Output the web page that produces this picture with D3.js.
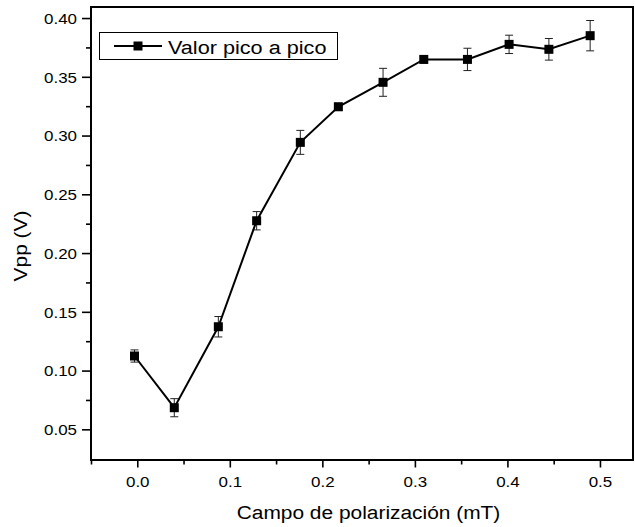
<!DOCTYPE html>
<html>
<head>
<meta charset="utf-8">
<script src="https://cdn.jsdelivr.net/npm/d3@7/dist/d3.min.js"></script>
<style>
  html, body { margin: 0; padding: 0; background: #fff; }
  svg { display: block; }
  text { font-family: "Liberation Sans", Arial, sans-serif; fill: #000; }
</style>
</head>
<body>
<svg id="chart" width="635" height="527"></svg>
<script>
// ---- data ----
const fieldX   = [-0.003, 0.040, 0.0876, 0.129, 0.1762, 0.2173, 0.2656, 0.3096, 0.3568, 0.4018, 0.4448, 0.4894];
const vppY     = [0.1124, 0.0684, 0.1373, 0.2275, 0.2942, 0.3245, 0.3453, 0.3648, 0.3648, 0.3776, 0.3734, 0.3850];
const vppErr   = [0.0052, 0.0077, 0.0087, 0.0078, 0.0102, 0.0030, 0.0119, 0.0030, 0.0095, 0.0078, 0.0092, 0.0129];
const xTicks   = [0.0, 0.1, 0.2, 0.3, 0.4, 0.5];
const xMinor   = [-0.05, 0.05, 0.15, 0.25, 0.35, 0.45];
const yTicks   = [0.05, 0.10, 0.15, 0.20, 0.25, 0.30, 0.35, 0.40];
const yMinor   = [0.075, 0.125, 0.175, 0.225, 0.275, 0.325, 0.375];
const xTitle   = "Campo de polarización (mT)";
const yTitle   = "Vpp (V)";
const legendLabel = "Valor pico a pico";

// ---- layout ----
const L = 91, R = 633, T = 7, B = 460;
const SX = 1.13; // horizontal widening of the text face

const svg = d3.select("#chart");
const x = d3.scaleLinear().domain([-0.05, 0.5357]).range([L, R]);
const y = d3.scaleLinear().domain([0.0239, 0.4094]).range([B, T]);

// axes: minor ticks
const gxMinor = svg.append("g").attr("transform", `translate(0,${B})`)
  .call(d3.axisBottom(x).tickValues(xMinor).tickSize(4.5).tickFormat(""));
const gyMinor = svg.append("g").attr("transform", `translate(${L},0)`)
  .call(d3.axisLeft(y).tickValues(yMinor).tickSize(5).tickFormat(""));
// axes: major ticks
const gx = svg.append("g").attr("transform", `translate(0,${B})`)
  .call(d3.axisBottom(x).tickValues(xTicks).tickSize(7.5).tickPadding(14).tickFormat(d3.format(".1f")));
const gy = svg.append("g").attr("transform", `translate(${L},0)`)
  .call(d3.axisLeft(y).tickValues(yTicks).tickSize(9).tickFormat(d3.format(".2f")));

[gxMinor, gyMinor, gx, gy].forEach(g => {
  g.select(".domain").remove();
  g.selectAll(".tick line").attr("stroke", "#000").attr("stroke-width", 1.6);
});
gx.selectAll(".tick text")
  .attr("font-size", 15).attr("font-family", "Liberation Sans, Arial, sans-serif")
  .attr("fill", "#000")
  .attr("y", 27).attr("dy", 0)
  .attr("transform", `scale(${SX},1)`);
gy.selectAll(".tick text")
  .attr("font-size", 15).attr("font-family", "Liberation Sans, Arial, sans-serif")
  .attr("fill", "#000")
  .attr("x", -14 / SX).attr("dy", "0.35em")
  .attr("transform", `scale(${SX},1)`);

// frame
svg.append("rect")
  .attr("x", L).attr("y", T).attr("width", R - L).attr("height", B - T)
  .attr("fill", "none").attr("stroke", "#000").attr("stroke-width", 2);

// error bars
const eb = svg.append("g").attr("stroke", "#222").attr("stroke-width", 1);
fieldX.forEach((fx, i) => {
  const cx = x(fx), y1 = y(vppY[i] - vppErr[i]), y2 = y(vppY[i] + vppErr[i]);
  eb.append("line").attr("x1", cx).attr("x2", cx).attr("y1", y1).attr("y2", y2);
  eb.append("line").attr("x1", cx - 4).attr("x2", cx + 4).attr("y1", y1).attr("y2", y1);
  eb.append("line").attr("x1", cx - 4).attr("x2", cx + 4).attr("y1", y2).attr("y2", y2);
});

// line
const pts = fieldX.map((fx, i) => [fx, vppY[i]]);
svg.append("path")
  .attr("d", d3.line().x(d => x(d[0])).y(d => y(d[1]))(pts))
  .attr("fill", "none").attr("stroke", "#000").attr("stroke-width", 2);

// markers
const MS = 9;
svg.append("g").selectAll("rect").data(pts).join("rect")
  .attr("x", d => x(d[0]) - MS / 2).attr("y", d => y(d[1]) - MS / 2)
  .attr("width", MS).attr("height", MS).attr("fill", "#000");

// legend
const lg = svg.append("g");
lg.append("rect").attr("x", 99.5).attr("y", 32.5).attr("width", 238).attr("height", 27)
  .attr("fill", "#fff").attr("stroke", "#000").attr("stroke-width", 1);
lg.append("line").attr("x1", 114).attr("x2", 162).attr("y1", 46).attr("y2", 46)
  .attr("stroke", "#000").attr("stroke-width", 2);
lg.append("rect").attr("x", 138 - MS / 2).attr("y", 46 - MS / 2).attr("width", MS).attr("height", MS)
  .attr("fill", "#000");
lg.append("text").attr("transform", `translate(168,53.5) scale(1.14,1)`)
  .attr("font-size", 19).text(legendLabel);

// axis titles
svg.append("text").attr("transform", `translate(368.5,518.5) scale(1.1,1)`)
  .attr("text-anchor", "middle").attr("font-size", 19).text(xTitle);
svg.append("text").attr("transform", `translate(27,246) rotate(-90) scale(1.1,1)`)
  .attr("text-anchor", "middle").attr("font-size", 19).text(yTitle);
</script>
</body>
</html>
